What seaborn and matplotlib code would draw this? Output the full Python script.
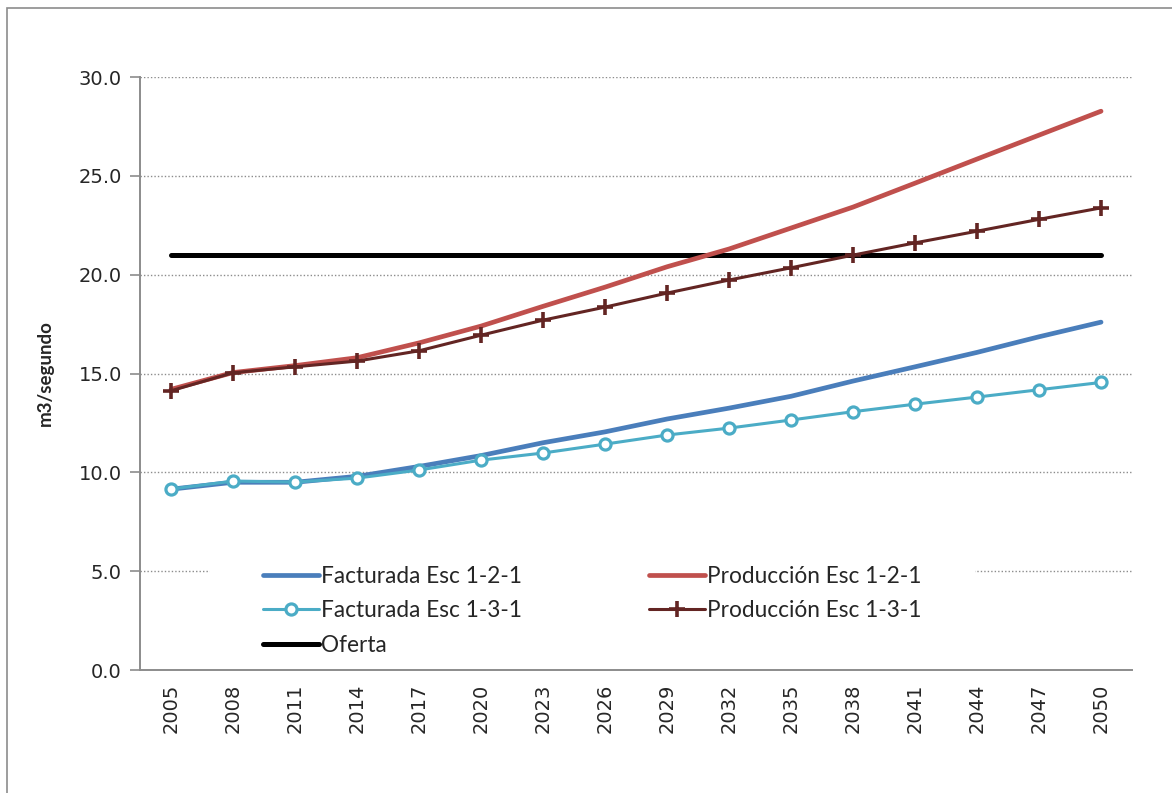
import numpy as np
import pandas as pd
import matplotlib
matplotlib.use("Agg")
import matplotlib.pyplot as plt
import seaborn as sns
from matplotlib.patches import Rectangle
from matplotlib.ticker import FixedLocator, FormatStrFormatter

# ---- data ----
years = ['2005', '2008', '2011', '2014', '2017', '2020', '2023', '2026',
         '2029', '2032', '2035', '2038', '2041', '2044', '2047', '2050']

facturada_121 = [9.15, 9.5, 9.5, 9.8, 10.3, 10.85, 11.5, 12.05,
                 12.7, 13.25, 13.85, 14.62, 15.34, 16.07, 16.86, 17.6]
produccion_121 = [14.2, 15.05, 15.4, 15.8, 16.55, 17.4, 18.4, 19.37,
                  20.4, 21.3, 22.36, 23.42, 24.63, 25.85, 27.06, 28.27]
facturada_131 = [9.16, 9.56, 9.51, 9.71, 10.12, 10.62, 10.98, 11.43,
                 11.89, 12.24, 12.65, 13.07, 13.45, 13.81, 14.18, 14.55]
produccion_131 = [14.13, 15.04, 15.34, 15.63, 16.15, 16.94, 17.7, 18.36,
                  19.07, 19.73, 20.35, 20.99, 21.61, 22.2, 22.8, 23.38]
oferta = [21.0] * len(years)

df = pd.DataFrame({'pos': np.arange(len(years)),
                   'F121': facturada_121, 'P121': produccion_121,
                   'F131': facturada_131, 'P131': produccion_131,
                   'OF': oferta})

sns.set_style('white')
plt.rcParams['font.family'] = ['DejaVu Sans']

fig = plt.figure(figsize=(11.72, 7.93), dpi=100)
ax = fig.add_axes([0.1195, 0.155, 0.8464, 0.7479])

# outer chart border
fig.patches.append(Rectangle((0.006, -0.01), 1.1, 1.0, transform=fig.transFigure,
                             fill=False, edgecolor='#8c8c8c', lw=1.2, zorder=0))

sns.lineplot(data=df, x='pos', y='F121', ax=ax, color='#4A7EBB', lw=3.4,
             label='Facturada Esc 1-2-1', solid_capstyle='round')
sns.lineplot(data=df, x='pos', y='F131', ax=ax, color='#4BACC6', lw=2.2,
             marker='o', markersize=8, markerfacecolor='white',
             markeredgecolor='#4BACC6', markeredgewidth=2.3,
             label='Facturada Esc 1-3-1')
sns.lineplot(data=df, x='pos', y='OF', ax=ax, color='black', lw=3.6,
             label='Oferta', solid_capstyle='round')
sns.lineplot(data=df, x='pos', y='P121', ax=ax, color='#C0504D', lw=3.4,
             label='Producción Esc 1-2-1', solid_capstyle='round')
sns.lineplot(data=df, x='pos', y='P131', ax=ax, color='#632523', lw=2.2,
             marker='+', markersize=11, markeredgewidth=2.6,
             markeredgecolor='#632523', label='Producción Esc 1-3-1')

# axes styling
ax.set_xlim(-0.5, len(years) - 0.5)
ax.set_ylim(0, 30)
ax.set_yticks(np.arange(0, 30.1, 5))
ax.yaxis.set_major_formatter(FormatStrFormatter('%.1f'))
ax.set_xticks(df['pos'])
ax.set_xticklabels(years, rotation=90)
ax.xaxis.set_minor_locator(FixedLocator(np.arange(-0.5, len(years), 1.0)))
ax.tick_params(axis='x', which='major', length=0, pad=10, labelsize=14)
ax.tick_params(axis='x', which='minor', length=7, width=1.2, color='#8c8c8c', direction='out')
ax.tick_params(axis='y', which='major', length=7, width=1.2, color='#8c8c8c',
               direction='out', labelsize=14, pad=6, left=True)
for t in ax.get_xticklabels() + ax.get_yticklabels():
    t.set_fontfamily('DejaVu Sans')
for s in ['top', 'right']:
    ax.spines[s].set_visible(False)
for s in ['left', 'bottom']:
    ax.spines[s].set_color('#8c8c8c')
    ax.spines[s].set_linewidth(1.4)

for yv in np.arange(5, 30.1, 5):
    ax.axhline(yv, color='#8c8c8c', lw=1.0, ls=(0, (1, 1.5)), zorder=0)

# white legend area that hides the gridline behind it
ax.add_patch(Rectangle((0.0706, 0.017), 0.771, 0.168, transform=ax.transAxes,
                       facecolor='white', edgecolor='none', zorder=1))

ax.set_xlabel('')
ax.set_ylabel('m3/segundo', fontsize=13.5, fontweight='bold',
              fontfamily='Lato', labelpad=18)

leg = ax.legend(loc='lower left', bbox_to_anchor=(0.106, -0.006), ncol=2,
                frameon=False,
                prop={'family': 'Lato', 'size': 16.3},
                handlelength=2.45, handletextpad=0.12, columnspacing=5.6,
                labelspacing=0.58, borderpad=0.3)
leg.set_zorder(5)

fig.savefig('out.png', dpi=100, facecolor='white')
